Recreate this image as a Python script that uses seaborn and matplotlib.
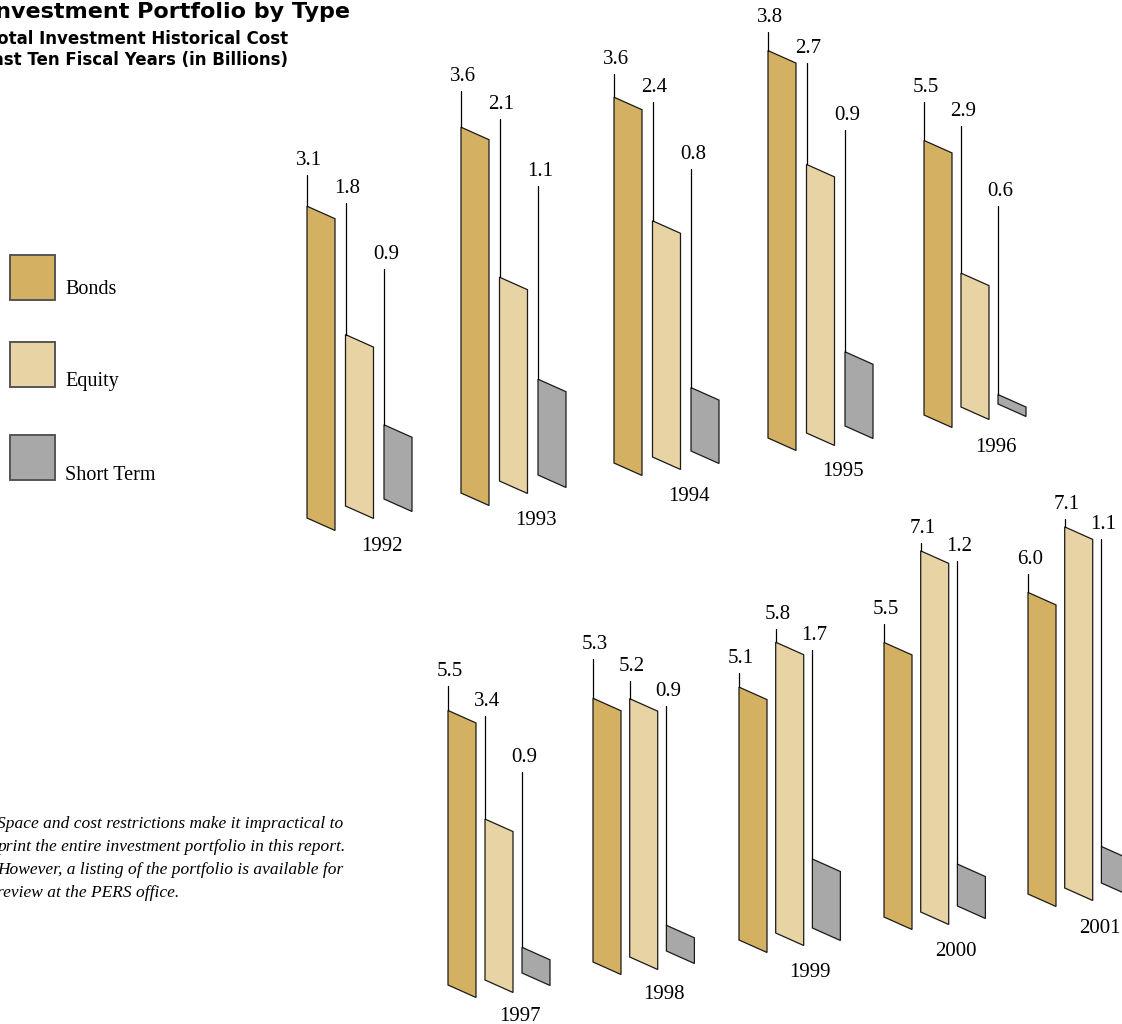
import numpy as np
import pandas as pd
import seaborn as sns
import matplotlib.pyplot as plt
from matplotlib.patches import Polygon, Rectangle

W, H = 1122, 1024

# data (billions)
years = [1992, 1993, 1994, 1995, 1996, 1997, 1998, 1999, 2000, 2001]
types = ["Bonds", "Equity", "Short Term"]
bonds = [3.1, 3.6, 3.6, 3.8, 5.5, 5.5, 5.3, 5.1, 5.5, 6.0]
equity = [1.8, 2.1, 2.4, 2.7, 2.9, 3.4, 5.2, 5.8, 7.1, 7.1]
short_term = [0.9, 1.1, 0.8, 0.9, 0.6, 0.9, 0.9, 1.7, 1.2, 1.1]

colors = {"Bonds": "#d4b162", "Equity": "#e8d3a4", "Short Term": "#a8a8a8"}

# layout of the year groups (pixels): left edge / bottom of the bonds bar
origin = [(307, 518), (461, 493), (614, 463), (768, 438), (924, 415),
          (448, 985), (593, 962), (739, 940), (884, 917), (1028, 894)]
px_per_unit = [108, 108, 108, 108, 54.1, 54.1, 54.1, 54.1, 54.1, 54.1]
spacing = [38.5, 38.5, 38.5, 38.5, 37, 37, 36.7, 36.7, 36.7, 36.7]
rise = [(0, 12, 19), (0, 12, 18), (0, 6, 12), (0, 5, 12), (0, 8, 11),
        (0, 5, 12), (0, 5, 11), (0, 7, 12), (0, 5, 11), (0, 6, 11)]
lift = [(31, 132, 156), (36, 158, 193), (23, 119, 219), (19, 101, 222), (38, 147, 189),
        (24, 103, 175), (39, 18, 219), (14, 13, 209), (18, 8, 303), (18, 8, 307)]
year_drop = [52, 50, 50, 50, 48, 48, 48, 49, 50, 50]
BAR_PX, DROP_PX, TRIM_PX = 28, 12.5, 23

df = pd.DataFrame({
    "year": np.repeat(years, 3),
    "type": types * len(years),
    "value": [v for trio in zip(bonds, equity, short_term) for v in trio],
})

sns.set_theme(style="white")
plt.rcParams["font.family"] = ["Liberation Serif", "DejaVu Serif"]
plt.rcParams["text.color"] = "black"

fig = plt.figure(figsize=(W / 100, H / 100), dpi=100)
bg = fig.add_axes([0, 0, 1, 1])
bg.set_xlim(0, W)
bg.set_ylim(H, 0)
bg.axis("off")

for j, year in enumerate(years):
    k = px_per_unit[j]
    s = spacing[j]
    bx, by = origin[j]
    left = bx + BAR_PX / 2 - 0.5 * s
    zero = by + TRIM_PX
    top_val = 8
    ax = fig.add_axes([left / W, 1 - zero / H, 3 * s / W, top_val * k / H])

    sub = df[df["year"] == year]
    sns.barplot(data=sub, x="type", y="value", hue="type", order=types,
                hue_order=types, palette=colors, width=BAR_PX / s,
                saturation=1, errorbar=None, legend=False, ax=ax)
    ax.set_xlim(-0.5, 2.5)
    ax.set_ylim(0, top_val)
    ax.axis("off")

    bars = sorted(ax.patches, key=lambda p: p.get_x())
    t = TRIM_PX / k
    d = DROP_PX / k
    for i, p in enumerate(bars):
        x0, w, v = p.get_x(), p.get_width(), p.get_height()
        fc = p.get_facecolor()
        p.remove()
        b = rise[j][i] / k
        ax.add_patch(Polygon([(x0, b + t), (x0, b + v), (x0 + w, b + v - d), (x0 + w, b + t - d)],
                             closed=True, facecolor=fc, edgecolor="#1a1a1a", lw=0.9, clip_on=False))
        top = b + v
        ax.plot([x0, x0], [top, top + lift[j][i] / k], color="black", lw=0.9, clip_on=False)
        ax.text(x0 + 2 / s, top + (lift[j][i] + 10) / k, f"{v:.1f}", ha="center",
                va="baseline", fontsize=15, clip_on=False)

    ax.text(bars[2].get_x() - 2 / s, (rise[j][2] + TRIM_PX - year_drop[j]) / k, str(year),
            ha="center", va="baseline", fontsize=15, clip_on=False)

# legend
for name, y0, base in zip(types, [255, 342, 435], [294, 386, 480]):
    bg.add_patch(Rectangle((10, y0), 45, 45, facecolor=colors[name], edgecolor="#555555", lw=1.4))
    bg.text(65, base, name, fontsize=14.5, va="baseline")

# titles
sans = ["DejaVu Sans"]
bg.text(350, 18, "Investment Portfolio by Type", ha="right", va="baseline",
        fontsize=16, fontweight="bold", family=sans)
bg.text(288, 44, "Total Investment Historical Cost", ha="right", va="baseline",
        fontsize=12, fontweight="bold", family=sans)
bg.text(288, 65, "Last Ten Fiscal Years (in Billions)", ha="right", va="baseline",
        fontsize=12, fontweight="bold", family=sans)

# footnote
note = ["Space and cost restrictions make it impractical to",
        "print the entire investment portfolio in this report.",
        "However, a listing of the portfolio is available for",
        "review at the PERS office."]
for line, base in zip(note, [828, 851, 874, 897]):
    bg.text(-3, base, line, fontsize=12.5, style="italic", va="baseline")

fig.savefig("out.png", dpi=100)
